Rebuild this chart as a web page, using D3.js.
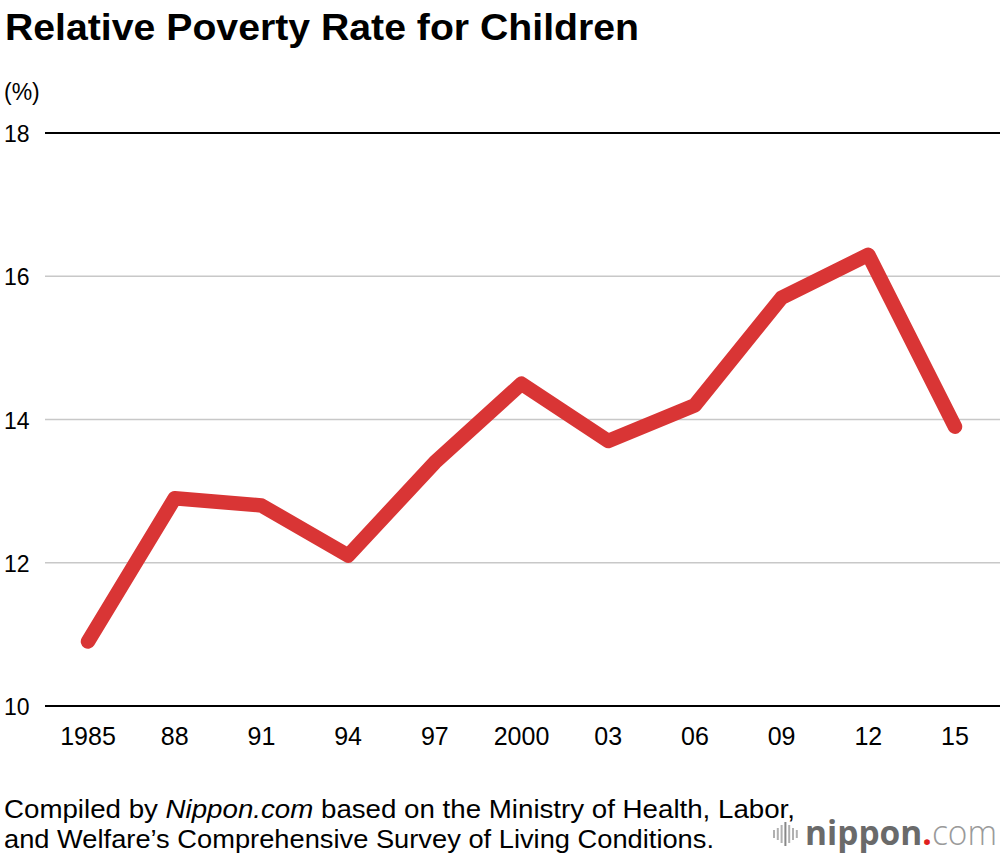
<!DOCTYPE html>
<html><head><meta charset="utf-8">
<script src="https://cdn.jsdelivr.net/npm/d3@7"></script>
<style>body{margin:0;background:#fff;font-family:"Liberation Sans",Arial,Helvetica,sans-serif;}</style>
</head><body>
<svg id="c" width="1000" height="856"></svg>
<script>
const years = ["1985","88","91","94","97","2000","03","06","09","12","15"];
const rates = [10.9,12.9,12.8,12.1,13.4,14.5,13.7,14.2,15.7,16.3,13.9];
const yTicks = [10,12,14,16,18];

const svg = d3.select("#c");
const font = '"Liberation Sans",Arial,Helvetica,sans-serif';

const x = d3.scalePoint().domain(years).range([88,955]);
const y = d3.scaleLinear().domain([10,18]).range([706,133]);

svg.append("text").attr("x",5).attr("y",40).attr("font-size",37).attr("font-weight","bold")
  .attr("font-family",font).attr("fill","#000")
  .attr("textLength",634).attr("lengthAdjust","spacingAndGlyphs")
  .text("Relative Poverty Rate for Children");
svg.append("text").attr("x",4).attr("y",100).attr("font-size",23)
  .attr("font-family",font).attr("fill","#000").text("(%)");

// grid
svg.selectAll("line.grid").data(yTicks).join("line")
  .attr("x1",45).attr("x2",1000)
  .attr("y1",d=>y(d)).attr("y2",d=>y(d))
  .attr("stroke",d=>(d===10||d===18)?"#000":"#c8c8c8")
  .attr("stroke-width",d=>(d===10||d===18)?2:1.5);

svg.selectAll("text.ytick").data(yTicks).join("text")
  .attr("x",4).attr("y",d=>y(d)+9).attr("font-size",23)
  .attr("font-family",font).attr("fill","#000").text(d=>d);

svg.selectAll("text.xtick").data(years).join("text")
  .attr("x",d=>x(d)).attr("y",745).attr("text-anchor","middle").attr("font-size",25)
  .attr("font-family",font).attr("fill","#000").text(d=>d);

const line = d3.line().x((d,i)=>x(years[i])).y(d=>y(d));
svg.append("path").datum(rates).attr("d",line).attr("fill","none")
  .attr("stroke","#d93535").attr("stroke-width",14.5)
  .attr("stroke-linecap","round").attr("stroke-linejoin","round");

// source
const src = svg.append("text").attr("x",4).attr("y",818).attr("font-size",25.5)
  .attr("font-family",font).attr("fill","#000")
  .attr("textLength",791).attr("lengthAdjust","spacingAndGlyphs");
src.append("tspan").text("Compiled by ");
src.append("tspan").attr("font-style","italic").text("Nippon.com");
src.append("tspan").text(" based on the Ministry of Health, Labor,");
svg.append("text").attr("x",4).attr("y",848).attr("font-size",25.5)
  .attr("font-family",font).attr("fill","#000")
  .attr("textLength",710).attr("lengthAdjust","spacingAndGlyphs")
  .text("and Welfare\u2019s Comprehensive Survey of Living Conditions.");

// logo
const lg = svg.append("g");
const bars = [[0,8],[1,12],[2,18],[3,24],[4,18],[5,12],[6,8]];
bars.forEach(([i,h])=>{
  lg.append("rect").attr("x",773+i*3.8).attr("y",834-h/2).attr("width",2).attr("height",h)
    .attr("fill", i===3?"#888":"#b0b0b0");
});
const lt = lg.append("text").attr("x",805).attr("y",845).attr("font-size",34)
  .attr("font-family",'"Open Sans","DejaVu Sans",sans-serif')
  .attr("textLength",192).attr("lengthAdjust","spacingAndGlyphs");
lt.append("tspan").attr("font-weight","bold").attr("fill","#6a6a6a").text("nippon");
lt.append("tspan").attr("fill","#e02020").attr("font-weight","bold").text(".");
lt.append("tspan").attr("fill","#9a9a9a").attr("font-weight","300").text("com");
</script>
</body></html>
